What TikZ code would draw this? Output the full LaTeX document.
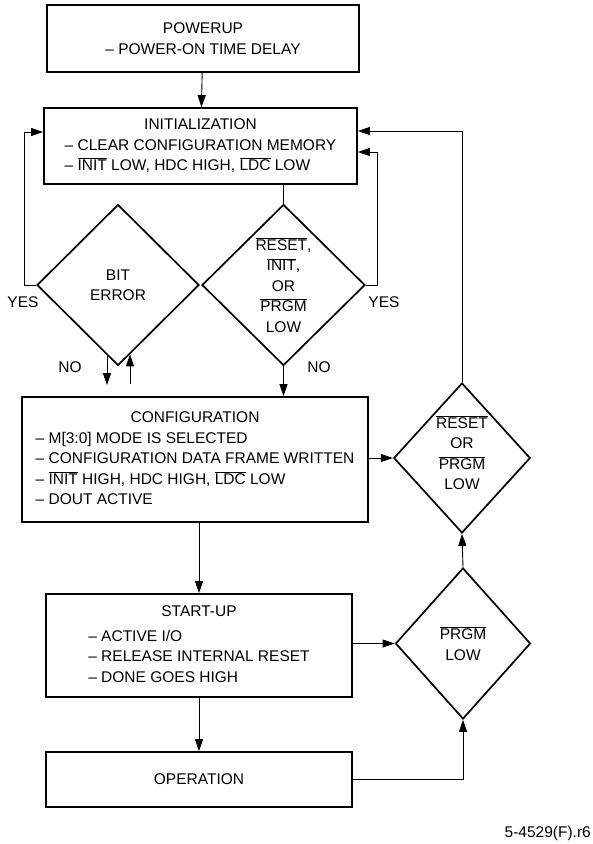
\documentclass[tikz,border=0pt]{standalone}
\usepackage{fontspec}
\setmainfont{Liberation Sans}
\usetikzlibrary{shapes.geometric,arrows.meta}
\newcommand{\ovbar}[1]{$\overline{\mbox{#1}}$}
\tikzset{
  box/.style={draw, line width=1.7pt, inner sep=0pt},
  cond/.style={diamond, draw, line width=1.7pt, inner sep=0pt, aspect=1, align=center},
  arr/.style={-{Triangle[length=12pt,width=8pt]}, line width=0.9pt},
  line/.style={line width=0.9pt},
  lbl/.style={inner sep=0pt},
}

\begin{document}
\begin{tikzpicture}[x=1pt, y=-1pt, font=\fontsize{15.5}{20.5}\selectfont]
    \useasboundingbox (0,0) rectangle (593,844);

    % 上电
    \node[box, minimum width=312pt, minimum height=67pt, align=center] (pu) at (203,38.5)
        {POWERUP\\– POWER-ON TIME DELAY};

    % 初始化
    \node[box, minimum width=313pt, minimum height=76pt] (init) at (200.5,146)
        {\begin{tabular}{@{}l@{}}
          \multicolumn{1}{@{}c@{}}{INITIALIZATION}\\
          – CLEAR CONFIGURATION MEMORY\\
          – \ovbar{INIT} LOW, HDC HIGH, \ovbar{LDC} LOW
        \end{tabular}};

    % 判断
    \node[cond, minimum width=162pt, minimum height=161pt] (db) at (118,285) {BIT\\ERROR};
    \node[cond, minimum width=163pt, minimum height=161pt] (dr) at (283.5,285)
        {\ovbar{RESET},\\\ovbar{INIT},\\OR\\\ovbar{PRGM}\\LOW};

    % 配置
    \node[box, minimum width=346pt, minimum height=125pt] (cfg) at (195,459.5)
        {\begin{tabular}{@{}l@{}}
          \multicolumn{1}{@{}c@{}}{CONFIGURATION\hspace{28pt}}\\
          – M[3:0] MODE IS SELECTED\\
          – CONFIGURATION DATA FRAME WRITTEN\\
          – \ovbar{INIT} HIGH, HDC HIGH, \ovbar{LDC} LOW\\
          – DOUT ACTIVE
        \end{tabular}};
    \node[cond, minimum width=134pt, minimum height=150pt] (dr2) at (462,458)
        {\ovbar{RESET}\\OR\\\ovbar{PRGM}\\LOW\\[-10pt]};

    % 启动
    \node[box, minimum width=306pt, minimum height=103pt] (su) at (199,645.5)
        {\begin{tabular}{@{}l@{}}
          \multicolumn{1}{@{}c@{}}{START-UP}\\[4pt]
          – ACTIVE I/O\\
          – RELEASE INTERNAL RESET\\
          – DONE GOES HIGH
        \end{tabular}};
    \node[cond, minimum width=135pt, minimum height=151pt] (dp) at (463,643.5) {\ovbar{PRGM}\\LOW};

    % 运行
    \node[box, minimum width=306pt, minimum height=55pt] (op) at (199,779.5) {OPERATION};

    % 标签
    \node[lbl] (ylft) at (23,302) {YES};
    \node[lbl] (yrgt) at (384,302) {YES};
    \node[lbl] (nlft) at (70,367) {NO};
    \node[lbl] (nrgt) at (319,367) {NO};
    \node[lbl, anchor=east] (figno) at (591,833) {5-4529(F).r6};

    % 连线
    \draw[arr] (pu) -- (init);
    \draw[line] (init.south -| dr.north) -- (dr.north);
    \draw[arr] (db.west) -- ++(-12,0) |- ([yshift=14pt]init.west);
    \draw[arr] (dr.east) -- ++(12,0) |- ([yshift=-6pt]init.east);
    \draw[arr] ([shift={(-11,-11)}]db.south) -- ([shift={(-11,-11)}]db.south |- cfg.north);
    \draw[arr] ([shift={(12,-12)}]db.south |- cfg.north) -- ([shift={(12,-12)}]db.south);
    \draw[arr] (dr.south) -- (dr.south |- cfg.north);
    \draw[arr] (cfg.east |- dr2.west) -- (dr2.west);
    \draw[arr] (dr2.north) |- ([yshift=15pt]init.east);
    \draw[arr] (cfg.south -| su.north) -- (su.north);
    \draw[arr] (su.east |- dp.west) -- (dp.west);
    \draw[arr] (su) -- (op);
    \draw[arr] (op.east) -| (dp.south);
    \draw[arr] (dp.north) -- (dr2.south);
\end{tikzpicture}
\end{document}
